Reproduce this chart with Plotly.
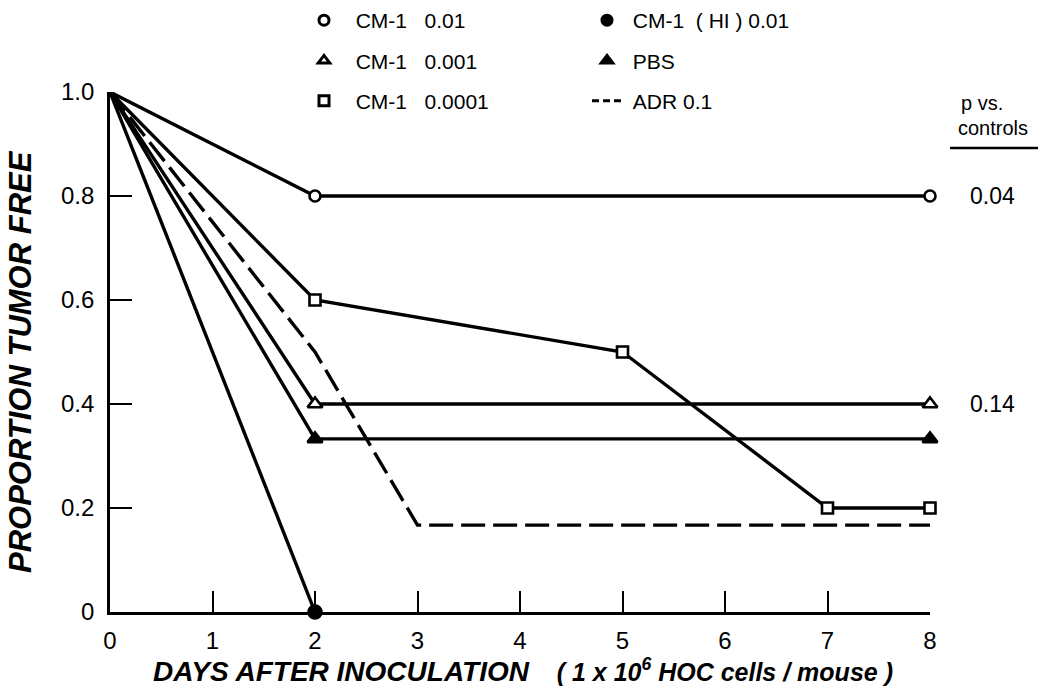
import plotly.graph_objects as go

days_cm1_01 = [0, 2, 8]
prop_cm1_01 = [1.0, 0.8, 0.8]

days_hi = [0, 2]
prop_hi = [1.0, 0.0]

days_cm1_001 = [0, 2, 8]
prop_cm1_001 = [1.0, 0.4, 0.4]

days_pbs = [0, 2, 8]
prop_pbs = [1.0, 0.333, 0.333]

days_cm1_0001 = [0, 2, 5, 7, 8]
prop_cm1_0001 = [1.0, 0.6, 0.5, 0.2, 0.2]

days_adr = [0, 2, 3, 8]
prop_adr = [1.0, 0.5, 0.167, 0.167]

x_ticks = [0, 1, 2, 3, 4, 5, 6, 7, 8]
y_ticks = [0, 0.2, 0.4, 0.6, 0.8, 1.0]
y_tick_labels = ["0", "0.2", "0.4", "0.6", "0.8", "1.0"]

p_labels = ["0.04", "0.14"]
p_y = [0.8, 0.4]

FONT = "Liberation Sans"
BLACK = "black"
NB = "\u00a0"

fig = go.Figure()


def series(x, y, symbol, fill, size):
    op = [0] + [1] * (len(x) - 1)
    fig.add_trace(go.Scatter(
        x=x, y=y, mode="lines+markers",
        line=dict(color=BLACK, width=3.4),
        marker=dict(symbol=symbol, size=size, color=fill, opacity=op,
                    line=dict(color=BLACK, width=2.6)),
        showlegend=False, cliponaxis=False))


series(days_pbs, prop_pbs, "triangle-up", BLACK, 13)
series(days_cm1_001, prop_cm1_001, "triangle-up", "white", 13)
series(days_cm1_0001, prop_cm1_0001, "square", "white", 11)
series(days_cm1_01, prop_cm1_01, "circle", "white", 11)
series(days_hi, prop_hi, "circle", BLACK, 13)

fig.add_trace(go.Scatter(
    x=days_adr, y=prop_adr, mode="lines",
    line=dict(color=BLACK, width=3.4, dash="24px,8px"),
    showlegend=False, cliponaxis=False))


def leg(name, legend, symbol=None, fill=None, dash=None):
    if symbol:
        fig.add_trace(go.Scatter(
            x=[None], y=[None], mode="markers", name=name, legend=legend,
            legendgroup=name,
            marker=dict(symbol=symbol, size=10, color=fill,
                        line=dict(color=BLACK, width=3))))
    else:
        fig.add_trace(go.Scatter(
            x=[None], y=[None], mode="lines", name=name, legend=legend,
            legendgroup=name,
            line=dict(color=BLACK, width=2.8, dash=dash)))


leg(NB * 2 + "CM-1" + NB * 3 + "0.01", "legend", "circle", "white")
leg(NB * 2 + "CM-1" + NB * 3 + "0.001", "legend", "triangle-up", "white")
leg(NB * 2 + "CM-1" + NB * 3 + "0.0001", "legend", "square", "white")
leg(NB + "CM-1" + NB * 2 + "(" + NB + "HI" + NB + ")" + NB + "0.01", "legend2", "circle", BLACK)
leg(NB + "PBS", "legend2", "triangle-up", BLACK)
leg(NB + "ADR 0.1", "legend2", dash="7px,4px")

legend_common = dict(font=dict(family=FONT, size=21, color=BLACK),
                     bgcolor="rgba(0,0,0,0)", tracegroupgap=10,
                     orientation="v", xanchor="left", yanchor="top",
                     xref="container", yref="container", itemwidth=30)

fig.update_layout(
    width=1040, height=698,
    margin=dict(l=110, r=110, t=92, b=86, autoexpand=False),
    paper_bgcolor="white", plot_bgcolor="white",
    font=dict(family=FONT, color=BLACK),
    legend=dict(x=304 / 1040, y=1.0, **legend_common),
    legend2=dict(x=587 / 1040, y=1.0, **legend_common),
    xaxis=dict(range=[0, 8], tickvals=x_ticks, ticks="inside", ticklen=21,
               tickwidth=2.2, showline=True, linewidth=2.7, linecolor=BLACK,
               tickcolor=BLACK, showgrid=False, zeroline=False,
               automargin=False,
               tickfont=dict(family=FONT, size=24, color=BLACK),
               ticklabelstandoff=5),
    yaxis=dict(range=[0, 1.0], tickvals=y_ticks, ticktext=y_tick_labels,
               ticks="inside", ticklen=22, tickwidth=2.2, showline=True,
               linewidth=2.7, linecolor=BLACK, tickcolor=BLACK,
               showgrid=False, zeroline=False, automargin=False,
               tickfont=dict(family=FONT, size=24, color=BLACK),
               ticklabelstandoff=8),
)

# axis titles
fig.add_annotation(
    x=(523 - 110) / 820, xref="paper", y=(612 - 670) / 520, yref="paper",
    text="<b><i><span style='font-size:28px'>DAYS AFTER INOCULATION</span>"
         + NB * 4 + "( 1 x 10<sup>6</sup> HOC cells / mouse )</i></b>",
    showarrow=False, xanchor="center", yanchor="middle",
    font=dict(family=FONT, size=25, color=BLACK))
fig.add_annotation(
    x=(21 - 110) / 820, xref="paper", y=(612 - 362) / 520, yref="paper",
    text="<b><i>PROPORTION TUMOR FREE</i></b>", textangle=-90,
    showarrow=False, xanchor="center", yanchor="middle",
    font=dict(family=FONT, size=31, color=BLACK))

for txt, yv in zip(p_labels, p_y):
    fig.add_annotation(x=(968 - 110) / 820, xref="paper", y=yv, yref="y", text=txt,
                       showarrow=False, xanchor="left", yanchor="middle",
                       font=dict(family=FONT, size=23, color=BLACK))

fig.add_annotation(x=(982 - 110) / 820, xref="paper", y=(612 - 103) / 520, yref="paper",
                   text="p vs.", showarrow=False, xanchor="center", yanchor="middle",
                   font=dict(family=FONT, size=20, color=BLACK))
fig.add_annotation(x=(993 - 110) / 820, xref="paper", y=(612 - 128) / 520, yref="paper",
                   text="controls", showarrow=False, xanchor="center", yanchor="middle",
                   font=dict(family=FONT, size=20, color=BLACK))
fig.add_shape(type="line", xref="paper", yref="paper",
              x0=(950 - 110) / 820, x1=(1038 - 110) / 820,
              y0=(612 - 148) / 520, y1=(612 - 148) / 520,
              line=dict(color=BLACK, width=2.5))

fig.write_html("out.html", config={"displayModeBar": False},
               post_script="document.body.style.margin='0';")
